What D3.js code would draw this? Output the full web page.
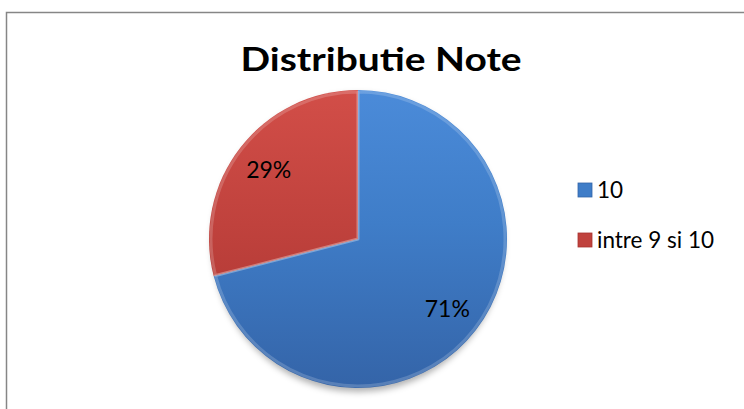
<!DOCTYPE html>
<html><head><meta charset="utf-8">
<script src="https://cdn.jsdelivr.net/npm/d3@7"></script>
<style>html,body{margin:0;padding:0;background:#fff;overflow:hidden}</style>
</head><body>
<script>
const title = "Distributie Note";
const categories = ["10", "intre 9 si 10"];
const values = [71, 29];
const colors = ["#3f7dc8", "#c0423d"];
const lightColors = ["#4b8bd9", "#d24e48"];
const darkColors = ["#3464a8", "#a8332f"];

const W = 744, H = 409;
const svg = d3.select("body").append("svg").attr("width", W).attr("height", H);
const defs = svg.append("defs");

svg.append("rect").attr("x", 6.5).attr("y", 12.5).attr("width", W).attr("height", H)
  .attr("fill", "#fff").attr("stroke", "#868686").attr("stroke-width", 1.5);

svg.append("text").attr("x", 381).attr("y", 71).attr("text-anchor", "middle")
  .attr("font-family", "Lato, Open Sans, sans-serif").attr("font-weight", "bold")
  .attr("font-size", 33).attr("textLength", 281).attr("lengthAdjust", "spacingAndGlyphs")
  .text(title);

const cx = 358, cy = 239, r = 149;

const f = defs.append("filter").attr("id", "sh").attr("x", "-20%").attr("y", "-20%").attr("width", "140%").attr("height", "140%");
f.append("feGaussianBlur").attr("stdDeviation", 3);
svg.append("ellipse").attr("cx", cx).attr("cy", cy + 4).attr("rx", r - 3).attr("ry", r)
  .attr("fill", "rgba(0,0,0,0.3)").attr("filter", "url(#sh)");

colors.forEach((c, i) => {
  const g = defs.append("linearGradient").attr("id", "g" + i)
    .attr("gradientUnits", "userSpaceOnUse").attr("x1", 0).attr("y1", -r).attr("x2", 0).attr("y2", r);
  g.append("stop").attr("offset", "0%").attr("stop-color", lightColors[i]);
  g.append("stop").attr("offset", "45%").attr("stop-color", c);
  g.append("stop").attr("offset", "100%").attr("stop-color", darkColors[i]);
});

const pie = d3.pie().sort(null).value(d => d)(values);
const arc = d3.arc().innerRadius(0).outerRadius(r);
const gp = svg.append("g").attr("transform", `translate(${cx},${cy})`);
gp.selectAll("path.s").data(pie).join("path").attr("class", "s")
  .attr("d", arc).attr("fill", (d, i) => `url(#g${i})`);
const bev = d3.arc().innerRadius(0).outerRadius(r - 2);
gp.selectAll("path.b").data(pie).join("path").attr("class", "b")
  .attr("d", bev).attr("fill", "none").attr("stroke", "rgba(255,255,255,0.18)").attr("stroke-width", 3)
  .attr("stroke-linejoin", "round");

const lab = d3.arc().innerRadius(113).outerRadius(113);
gp.selectAll("text").data(pie).join("text")
  .attr("transform", d => `translate(${lab.centroid(d)})`)
  .attr("text-anchor", "middle").attr("dy", "0.36em")
  .attr("font-family", "Lato, Open Sans, sans-serif").attr("font-size", 23)
  .attr("fill", "#000")
  .text(d => d.value + "%");

const leg = svg.append("g");
const ly = [190, 240];
categories.forEach((c, i) => {
  leg.append("rect").attr("x", 578).attr("y", ly[i] - 7).attr("width", 14).attr("height", 14)
    .attr("fill", colors[i]).attr("stroke", darkColors[i]).attr("stroke-width", 0.8);
  leg.append("text").attr("x", 597).attr("y", ly[i]).attr("dy", "0.36em")
    .attr("font-family", "Lato, Open Sans, sans-serif").attr("font-size", 22.5)
    .text(c);
});
</script>
</body></html>
